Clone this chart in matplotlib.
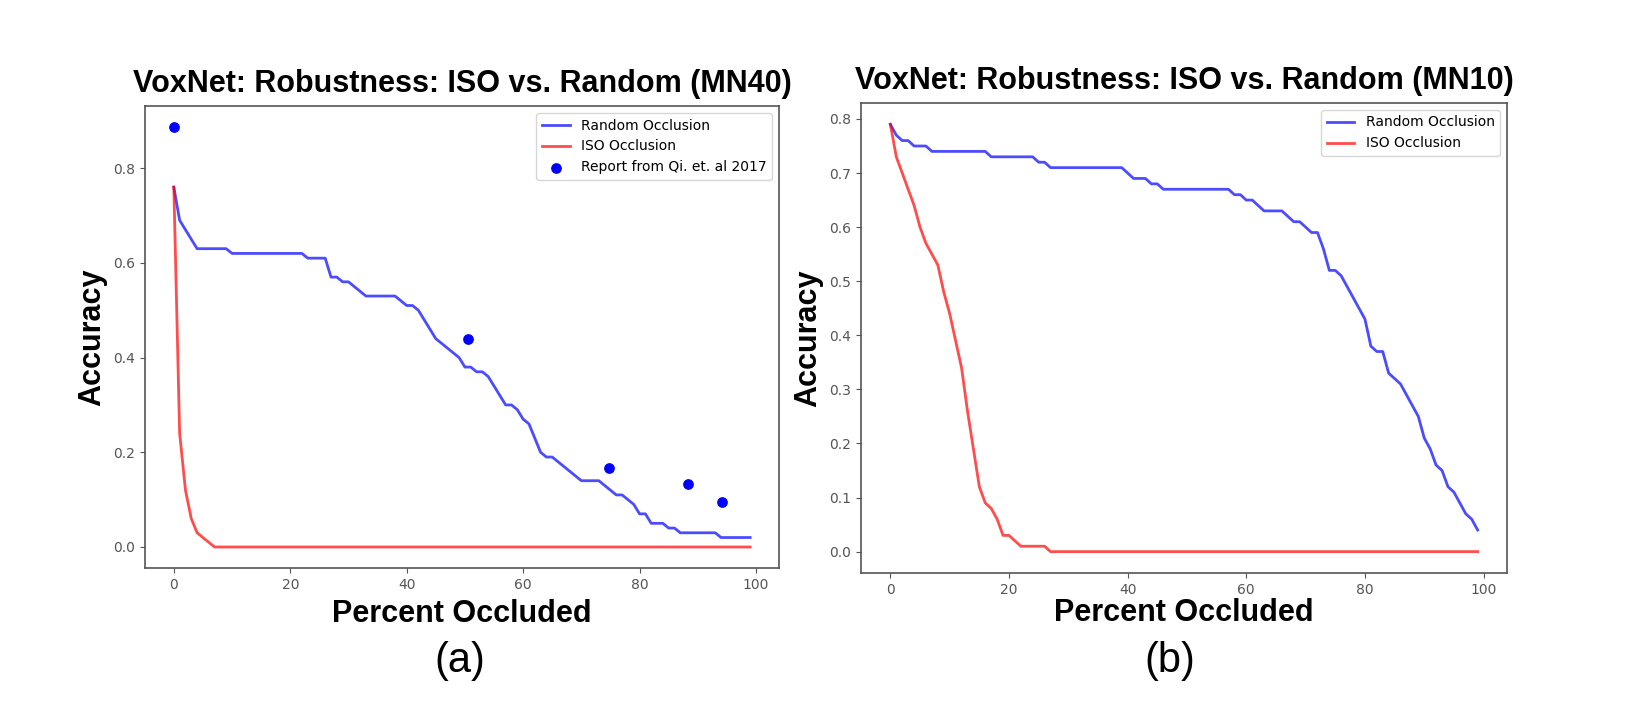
import numpy as np
import matplotlib
matplotlib.use("Agg")
import matplotlib.pyplot as plt

# percent occluded, 0..99
occluded = np.arange(100)

# (a) MN40
random_mn40 = ([0.76, 0.69, 0.67, 0.65] + [0.63] * 6 + [0.62] * 13 + [0.61] * 4
               + [0.57, 0.57, 0.56, 0.56, 0.55, 0.54] + [0.53] * 6
               + [0.52, 0.51, 0.51, 0.50, 0.48, 0.46, 0.44, 0.43, 0.42, 0.41,
                  0.40, 0.38, 0.38, 0.37, 0.37, 0.36, 0.34, 0.32, 0.30, 0.30,
                  0.29, 0.27, 0.26, 0.23, 0.20, 0.19, 0.19, 0.18, 0.17, 0.16, 0.15]
               + [0.14] * 4 + [0.13, 0.12, 0.11, 0.11, 0.10, 0.09, 0.07, 0.07]
               + [0.05] * 3 + [0.04] * 2 + [0.03] * 7 + [0.02] * 6)
iso_mn40 = [0.76, 0.24, 0.12, 0.06, 0.03, 0.02, 0.01] + [0.0] * 93
qi_x = [0, 50.6, 74.7, 88.4, 94.2]
qi_acc = [0.887, 0.44, 0.167, 0.133, 0.096]

# (b) MN10
random_mn10 = ([0.79, 0.77, 0.76, 0.76, 0.75, 0.75, 0.75] + [0.74] * 10 + [0.73] * 8
               + [0.72] * 2 + [0.71] * 13 + [0.70, 0.69, 0.69, 0.69, 0.68, 0.68]
               + [0.67] * 12 + [0.66, 0.66, 0.65, 0.65, 0.64] + [0.63] * 4
               + [0.62, 0.61, 0.61, 0.60, 0.59, 0.59]
               + [0.56, 0.52, 0.52, 0.51, 0.49, 0.47, 0.45, 0.43, 0.38, 0.37,
                  0.37, 0.33, 0.32, 0.31, 0.29, 0.27, 0.25, 0.21, 0.19, 0.16,
                  0.15, 0.12, 0.11, 0.09, 0.07, 0.06, 0.04])
iso_mn10 = ([0.79, 0.73, 0.70, 0.67, 0.64, 0.60, 0.57, 0.55, 0.53, 0.48,
             0.44, 0.39, 0.34, 0.26, 0.19, 0.12, 0.09, 0.08, 0.06, 0.03,
             0.03, 0.02] + [0.01] * 5 + [0.0] * 73)

# title, random, iso, qi points?, caption, caption x (px), xlabel pad, axes rect
panels = [
    ("VoxNet: Robustness: ISO vs. Random (MN40)", random_mn40, iso_mn40, True, "(a)", 460, 5,
     [145 / 1650, 135 / 703, 634 / 1650, 462 / 703]),
    ("VoxNet: Robustness: ISO vs. Random (MN10)", random_mn10, iso_mn10, False, "(b)", 1170, 1,
     [861 / 1650, 130 / 703, 646 / 1650, 470 / 703]),
]

bold = dict(family="Liberation Sans", weight="bold", size=22)

fig = plt.figure(figsize=(16.5, 7.03), dpi=100)
for title, rnd, iso, with_qi, cap, cap_x, xpad, rect in panels:
    ax = fig.add_axes(rect)
    ax.plot(occluded, rnd, color="b", alpha=0.7, lw=2, label="Random Occlusion")
    ax.plot(occluded, iso, color="r", alpha=0.7, lw=2, label="ISO Occlusion")
    if with_qi:
        ax.scatter(qi_x, qi_acc, color="b", s=45, label="Report from Qi. et. al 2017")
    ax.set_title(title, fontdict=bold, pad=10)
    ax.set_xlabel("Percent Occluded", fontdict=bold, labelpad=xpad)
    ax.set_ylabel("Accuracy", fontdict=bold)
    ax.tick_params(labelsize=10, colors="#555555")
    for s in ax.spines.values():
        s.set_color("#555555")
        s.set_linewidth(1.2)
    ax.legend(loc="upper right", fontsize=10)
    fig.text(cap_x / 1650, 42 / 703, cap, ha="center", va="center",
             family="Liberation Sans", size=30)

fig.savefig("out.png", dpi=100)
